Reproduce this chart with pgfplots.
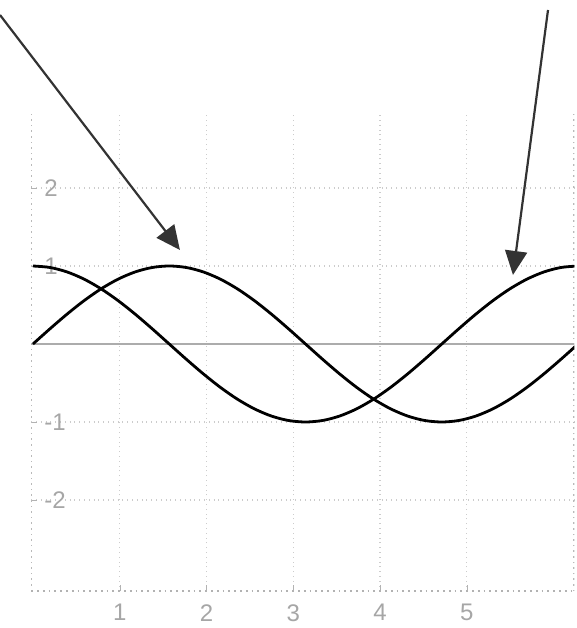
\documentclass[border=0pt]{standalone}
\usepackage{pgfplots}
\pgfplotsset{compat=1.18}
\usepackage{pgfplotstable}
\usepackage{fontspec}
\setmainfont{Liberation Sans}
\usetikzlibrary{arrows.meta}
\pgfplotstableread{
x s c
0 0 1
0.19635 0.19509 0.98079
0.39270 0.38268 0.92388
0.58905 0.55557 0.83147
0.78540 0.70711 0.70711
0.98175 0.83147 0.55557
1.17810 0.92388 0.38268
1.37445 0.98079 0.19509
1.57080 1 0
1.76715 0.98079 -0.19509
1.96350 0.92388 -0.38268
2.15984 0.83147 -0.55557
2.35619 0.70711 -0.70711
2.55254 0.55557 -0.83147
2.74889 0.38268 -0.92388
2.94524 0.19509 -0.98079
3.14159 0 -1
3.33794 -0.19509 -0.98079
3.53429 -0.38268 -0.92388
3.73064 -0.55557 -0.83147
3.92699 -0.70711 -0.70711
4.12334 -0.83147 -0.55557
4.31969 -0.92388 -0.38268
4.51604 -0.98079 -0.19509
4.71239 -1 0
4.90874 -0.98079 0.19509
5.10509 -0.92388 0.38268
5.30144 -0.83147 0.55557
5.49779 -0.70711 0.70711
5.69414 -0.55557 0.83147
5.89049 -0.38268 0.92388
6.08684 -0.19509 0.98079
6.28319 0 1
}\trig
\begin{document}
\begin{tikzpicture}
\begin{axis}[
  scale only axis, x=43.375pt, y=39pt,
  xmin=-0.02, xmax=6.24, ymin=-3.17, ymax=2.95,
  axis line style={draw=none},
  xtick={1,2,3,4,5}, ytick={-2,-1,1,2},
  xtick pos=bottom, ytick pos=left,
  grid=major, grid style={gray!40, dotted, line width=0.6pt},
  tick style={gray!60}, major tick length=3pt, tick align=inside,
  /pgf/number format/assume math mode=true,
  ticklabel style={text=gray!70, font=\fontsize{12}{14}\selectfont},
  yticklabel style={anchor=west, xshift=3pt},
  xticklabel style={yshift=-3pt},
]
\draw[gray!55, dotted, line width=0.8pt] (rel axis cs:0,0) -- (rel axis cs:0,1);
\draw[gray!55, dotted, line width=0.8pt] (rel axis cs:1,0) -- (rel axis cs:1,1);
\draw[gray!60, dotted, line width=0.9pt] (rel axis cs:0,0) -- (rel axis cs:1,0);
\draw[gray!65, line width=1pt] (axis cs:-0.02,0) -- (axis cs:6.24,0);
\addplot[black, line width=1.4pt, smooth] table[x=x, y=s] {\trig};
\addplot[black, line width=1.4pt, smooth] table[x=x, y=c] {\trig};
\coordinate (a1s) at (axis cs:-0.380,4.218);
\coordinate (a1e) at (axis cs:1.694,1.205);
\coordinate (a2s) at (axis cs:5.937,4.282);
\coordinate (a2e) at (axis cs:5.533,0.885);
\coordinate (tl) at (axis cs:-0.380,4.410);
\coordinate (br) at (axis cs:6.271,-3.641);
\end{axis}
\draw[black!80, line width=1.1pt, -{Triangle[length=12pt,width=11pt]}] (a1s) -- (a1e);
\draw[black!80, line width=1.1pt, -{Triangle[length=12pt,width=11pt]}] (a2s) -- (a2e);
\pgfresetboundingbox
\useasboundingbox (tl) rectangle (br);
\end{tikzpicture}
\end{document}
